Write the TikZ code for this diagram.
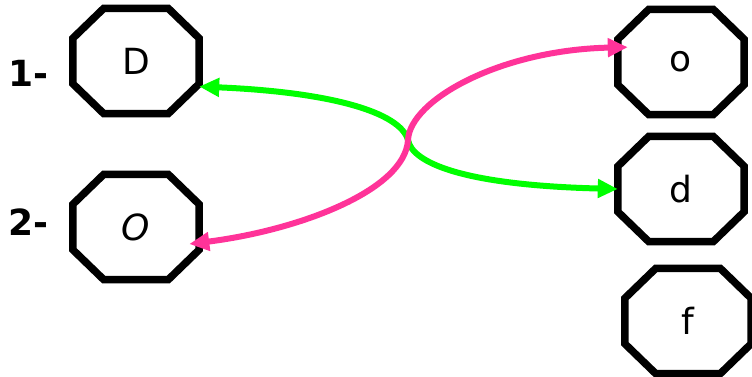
\documentclass[tikz,border=0pt]{standalone}
\usepackage{fontspec}
\setmainfont{DejaVu Sans}
\usetikzlibrary{calc,arrows.meta}
\definecolor{pinkc}{RGB}{255,51,153}
\definecolor{greenc}{RGB}{0,255,0}
\tikzset{
  octa/.style={rectangle, minimum width=126pt, minimum height=105pt, inner sep=0pt,
    font=\fontsize{36}{38}\selectfont},
  octline/.style={draw=black, line width=7.5pt, fill=white, line join=miter},
  lbl/.style={font=\fontsize{36}{38}\selectfont\bfseries, inner sep=0pt},
  garrow/.style={draw=greenc, line width=6pt, {Triangle[length=20pt,width=18pt]}-{Triangle[length=20pt,width=18pt]}},
  parrow/.style={draw=pinkc, line width=6pt, {Triangle[length=20pt,width=18pt]}-{Triangle[length=20pt,width=18pt]}},
}
\begin{document}
\begin{tikzpicture}[x=1pt,y=-1pt]
\useasboundingbox (0,0) rectangle (752,376);
\node[octa] (D) at (136,61) {};
\node[octa] (O) at (136,227) {};
\node[octa] (o) at (681,62) {};
\node[octa] (d) at (681,189) {};
\node[octa] (f) at (688,321) {};
\foreach \n in {D,O,o,d,f}
  \path[octline] ($(\n.north west)+(31,0)$) -- ($(\n.north east)+(-31,0)$)
    -- ($(\n.north east)+(0,30)$) -- ($(\n.south east)+(0,-30)$)
    -- ($(\n.south east)+(-31,0)$) -- ($(\n.south west)+(31,0)$)
    -- ($(\n.south west)+(0,-30)$) -- ($(\n.north west)+(0,30)$) -- cycle;
\node[font=\fontsize{36}{38}\selectfont] at (D) {D};
\node[font=\fontsize{36}{38}\selectfont\itshape] at (O) {O};
\node[font=\fontsize{36}{38}\selectfont] at (o) {o};
\node[font=\fontsize{36}{38}\selectfont] at (d) {d};
\node[font=\fontsize{36}{38}\selectfont] at (f) {f};
\node[lbl] (l1) at (28,73) {1-};
\node[lbl] (l2) at (28,222) {2-};
\coordinate (X) at (408,140);
\draw[garrow] (D.-22) .. controls (330,92) and (400,112) .. (X)
  .. controls (412,162) and (460,185) .. (d.west);
\draw[parrow, shorten <=-10pt, shorten >=-10pt] (O.-14) .. controls (300,230) and (405,190) .. (X)
  .. controls (410,100) and (500,50) .. (o.167);
\end{tikzpicture}
\end{document}
